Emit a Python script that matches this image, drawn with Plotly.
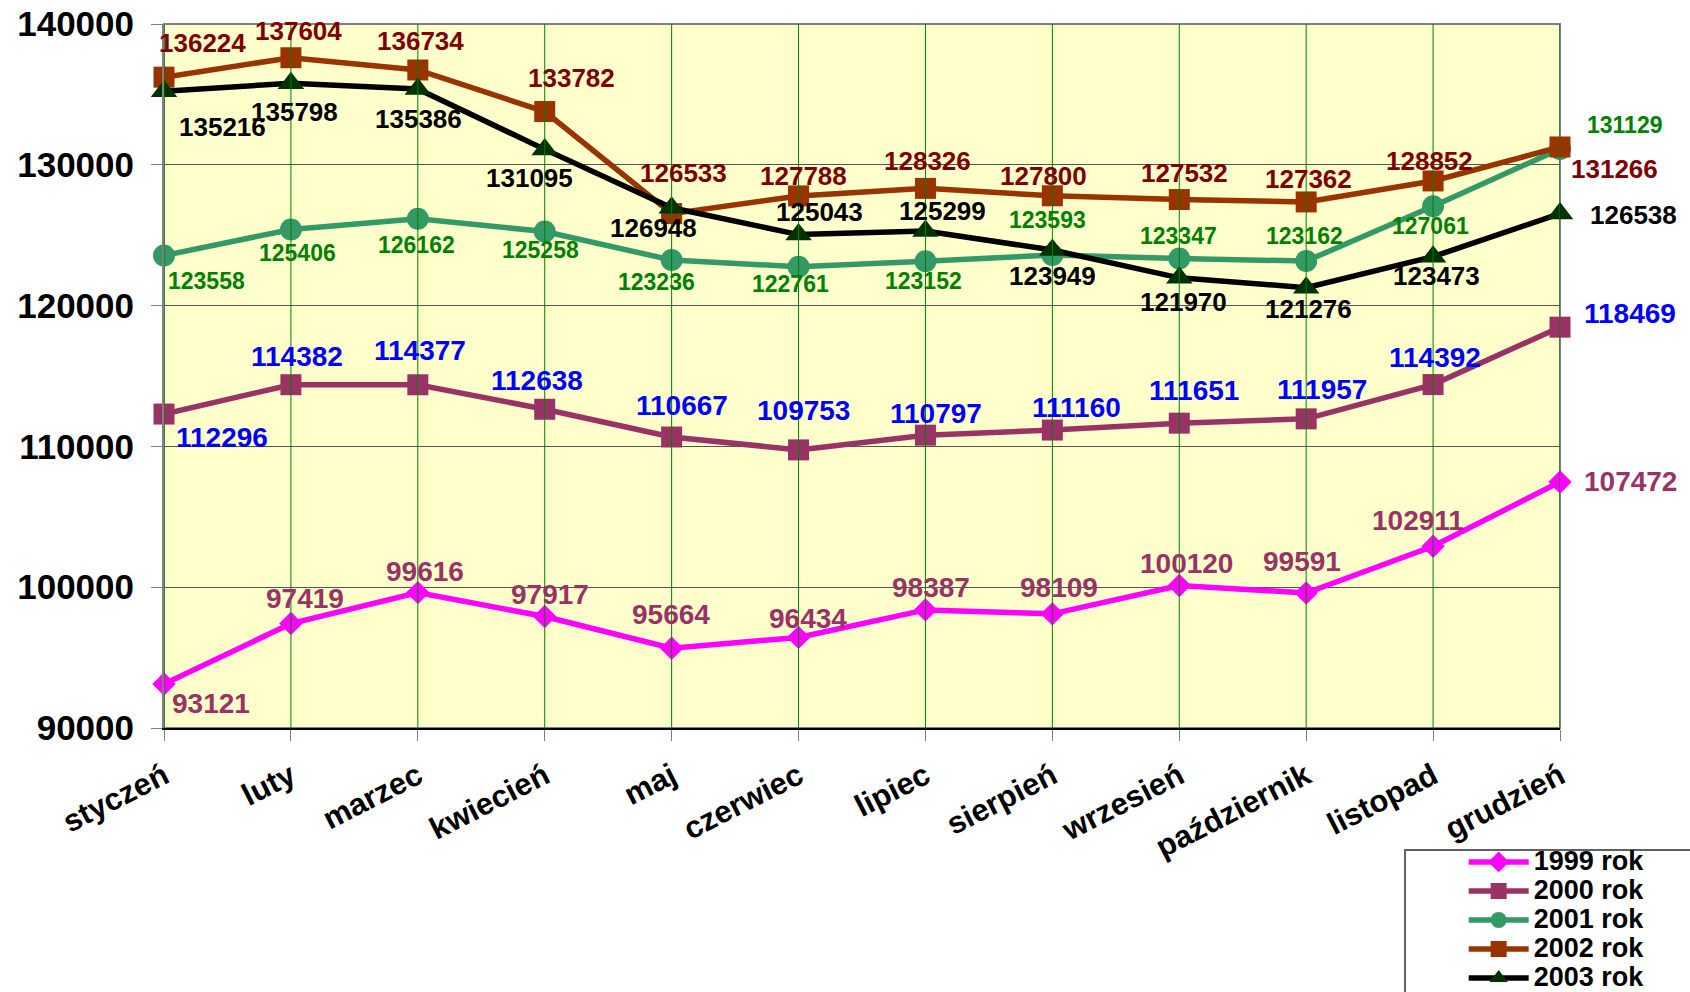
import plotly.graph_objects as go

# monthly values per year
months = ["styczeń", "luty", "marzec", "kwiecień", "maj", "czerwiec", "lipiec",
          "sierpień", "wrzesień", "październik", "listopad", "grudzień"]
y1999 = [93121, 97419, 99616, 97917, 95664, 96434, 98387, 98109, 100120, 99591, 102911, 107472]
y2000 = [112296, 114382, 114377, 112638, 110667, 109753, 110797, 111160, 111651, 111957, 114392, 118469]
y2001 = [123558, 125406, 126162, 125258, 123236, 122761, 123152, 123593, 123347, 123162, 127061, 131129]
y2002 = [136224, 137604, 136734, 133782, 126533, 127788, 128326, 127800, 127532, 127362, 128852, 131266]
y2003 = [135216, 135798, 135386, 131095, 126948, 125043, 125299, 123949, 121970, 121276, 123473, 126538]
y_ticks = [90000, 100000, 110000, 120000, 130000, 140000]

# label offsets in px (right, down) - labels were placed by hand in the original
off1999 = [(47, 19), (14, -25), (7, -21), (5, -22), (-1, -34), (9, -19), (6, -22),
           (7, -26), (7, -22), (-4, -31), (-15, -26), (70, 0)]
off2000 = [(58, 23), (6, -28), (2, -34), (-8, -29), (10, -32), (5, -39), (11, -22),
           (24, -23), (15, -33), (16, -29), (2, -27), (70, -14)]
off2001 = [(42, 25), (7, 24), (-1, 26), (-4, 18), (-15, 22), (-8, 17), (-2, 20),
           (-5, -35), (-1, -22), (-2, -25), (-3, 20), (64, -24)]
off2002 = [(38, -34), (8, -27), (3, -29), (27, -34), (12, -41), (5, -20), (2, -27),
           (-9, -20), (5, -27), (2, -23), (-4, -20), (54, 22)]
off2003 = [(58, 36), (4, 29), (1, 30), (-15, 29), (-18, 20), (21, -23), (17, -20),
           (0, 26), (4, 24), (2, 21), (3, 19), (73, 1)]

FONT = "Liberation Sans, Arial, sans-serif"

series = [
    dict(name="1999 rok", y=y1999, off=off1999, line="#FF00FF", marker="#FF00FF",
         symbol="diamond", size=18, lab_color="#993366", lab_size=28),
    dict(name="2000 rok", y=y2000, off=off2000, line="#993366", marker="#993366",
         symbol="square", size=21, lab_color="#0000FF", lab_size=28),
    dict(name="2001 rok", y=y2001, off=off2001, line="#339966", marker="#339966",
         symbol="circle", size=22, lab_color="#008000", lab_size=23),
    dict(name="2002 rok", y=y2002, off=off2002, line="#993300", marker="#993300",
         symbol="square", size=21, lab_color="#800000", lab_size=26),
    dict(name="2003 rok", y=y2003, off=off2003, line="#000000", marker="#003300",
         symbol="triangle-up", size=23, lab_color="#000000", lab_size=26),
]

fig = go.Figure()

for s in series:
    fig.add_trace(go.Scatter(
        x=months, y=s["y"], mode="lines+markers",
        name="<span style='font-size:27px'>" + s["name"] + "</span>",
        line=dict(color=s["line"], width=5.5),
        marker=dict(symbol=s["symbol"], size=s["size"], color=s["marker"], line=dict(width=0)),
        cliponaxis=False,
    ))
    for m, v, (dx, dy) in zip(months, s["y"], s["off"]):
        fig.add_annotation(
            x=m, y=v, text=str(v), showarrow=False,
            xshift=dx, yshift=-dy,
            font=dict(family=FONT, size=s["lab_size"], color=s["lab_color"], weight="bold"),
        )

# green vertical lines drawn over the series, one per month
for m in months:
    fig.add_shape(type="line", xref="x", yref="paper", x0=m, x1=m, y0=0, y1=1,
                  line=dict(color="#008000", width=1), layer="above")

# plot area frame
fig.add_shape(type="rect", xref="paper", yref="paper", x0=0, x1=1, y0=0, y1=1,
              line=dict(color="#808080", width=2), layer="below")

# legend frame
fig.add_shape(type="rect", xref="paper", yref="paper", x0=0.889, x1=1.1, y0=-0.1733, y1=-0.386,
              line=dict(color="#606060", width=2), fillcolor="white", layer="below")

fig.update_layout(
    width=1690, height=992,
    margin=dict(l=164, r=130, t=24, b=264, autoexpand=False),
    plot_bgcolor="#FFFFCC",
    paper_bgcolor="white",
    font=dict(family=FONT, color="black"),
    showlegend=True,
    legend=dict(
        x=0.931, y=-0.1626, xanchor="left", yanchor="top",
        bgcolor="rgba(0,0,0,0)", borderwidth=0,
        font=dict(family=FONT, size=20, color="black", weight="bold"),
        tracegroupgap=0, itemwidth=60,
    ),
)

fig.update_xaxes(
    type="category", range=[0, 11],
    showgrid=False,
    showline=True, linecolor="black", linewidth=2,
    ticks="outside", ticklen=11, tickcolor="#808080", tickwidth=1,
    tickangle=-27, ticklabelstandoff=5,
    tickfont=dict(family=FONT, size=31, color="black", weight="bold"),
)

fig.update_yaxes(
    range=[90000, 140000], tickvals=y_ticks, tickformat="d",
    showgrid=True, gridcolor="#555555", gridwidth=1,
    showline=True, linecolor="#808080", linewidth=2,
    ticks="outside", ticklen=11, tickcolor="#808080", tickwidth=1,
    ticklabelstandoff=10,
    zeroline=False,
    tickfont=dict(family=FONT, size=35, color="black", weight="bold"),
)

fig.write_html("out.html", config={"displayModeBar": False},
               post_script="document.body.style.margin='0';")
